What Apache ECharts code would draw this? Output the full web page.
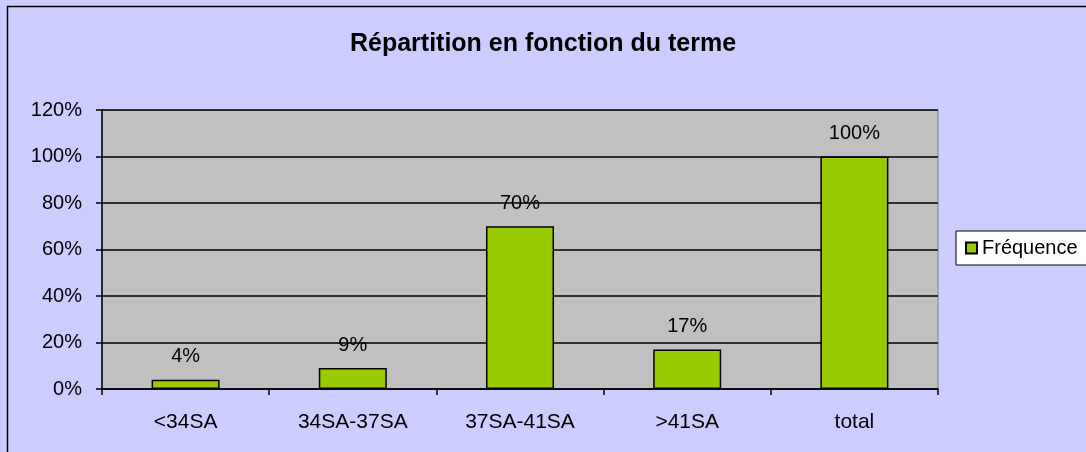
<!DOCTYPE html>
<html>
<head>
<meta charset="utf-8">
<script src="https://cdn.jsdelivr.net/npm/echarts@6/dist/echarts.min.js"></script>
<style>
  html, body { margin: 0; padding: 0; background: #CCCCFF; }
  #chart { width: 1086px; height: 452px; }
</style>
</head>
<body>
<div id="chart"></div>
<script>
// data
const categories = ['<34SA', '34SA-37SA', '37SA-41SA', '>41SA', 'total'];
const frequence = [4, 9, 70, 17, 100];
const yTicks = [0, 20, 40, 60, 80, 100, 120];

const font = 'Arial, "Liberation Sans", sans-serif';
const myChart = echarts.init(document.getElementById('chart'));

const option = {
  backgroundColor: '#CCCCFF',
  animation: false,
  title: {
    text: 'Répartition en fonction du terme',
    left: 'center',
    top: 27,
    textStyle: { fontFamily: font, fontSize: 25, fontWeight: 'bold', color: '#000' },
  },
  legend: {
    left: 956,
    top: 231,
    orient: 'vertical',
    backgroundColor: '#fff',
    borderColor: '#000',
    borderWidth: 1,
    borderRadius: 0,
    padding: [7, 40, 7, 9],
    itemWidth: 11,
    itemHeight: 11,
    icon: 'rect',
    textStyle: { fontFamily: font, fontSize: 20, color: '#000' },
    data: ['Fréquence'],
  },
  grid: {
    left: 102,
    right: 148,
    top: 110,
    bottom: 63,
    show: true,
    backgroundColor: '#C0C0C0',
    borderColor: '#808080',
    borderWidth: 1,
  },
  xAxis: {
    type: 'category',
    data: categories,
    axisLine: { lineStyle: { color: '#000', width: 1.5 } },
    axisTick: { show: true, alignWithLabel: false, length: 6, lineStyle: { color: '#000', width: 1.5 } },
    axisLabel: { fontFamily: font, fontSize: 21, color: '#000', margin: 23 },
  },
  yAxis: {
    type: 'value',
    min: yTicks[0],
    max: yTicks[yTicks.length - 1],
    interval: 20,
    axisLine: { show: true, lineStyle: { color: '#000', width: 1.5 } },
    axisTick: { show: true, length: 6, lineStyle: { color: '#000', width: 1.5 } },
    splitLine: { lineStyle: { color: '#000', width: 1.5 } },
    axisLabel: { fontFamily: font, fontSize: 20, color: '#000', margin: 20, formatter: '{value}%' },
  },
  series: [
    {
      name: 'Fréquence',
      type: 'bar',
      data: frequence,
      barWidth: 68,
      itemStyle: { color: '#99CC00', borderColor: '#000', borderWidth: 1.5 },
      label: {
        show: true,
        position: 'top',
        distance: 13,
        formatter: '{c}%',
        fontFamily: font,
        fontSize: 20,
        color: '#000',
      },
    },
  ],
  graphic: [
    {
      type: 'rect',
      shape: { x: 7.5, y: 6.5, width: 1200, height: 600 },
      style: { fill: 'none', stroke: '#000', lineWidth: 1.5 },
      silent: true,
    },
  ],
};

myChart.setOption(option);
</script>
</body>
</html>
